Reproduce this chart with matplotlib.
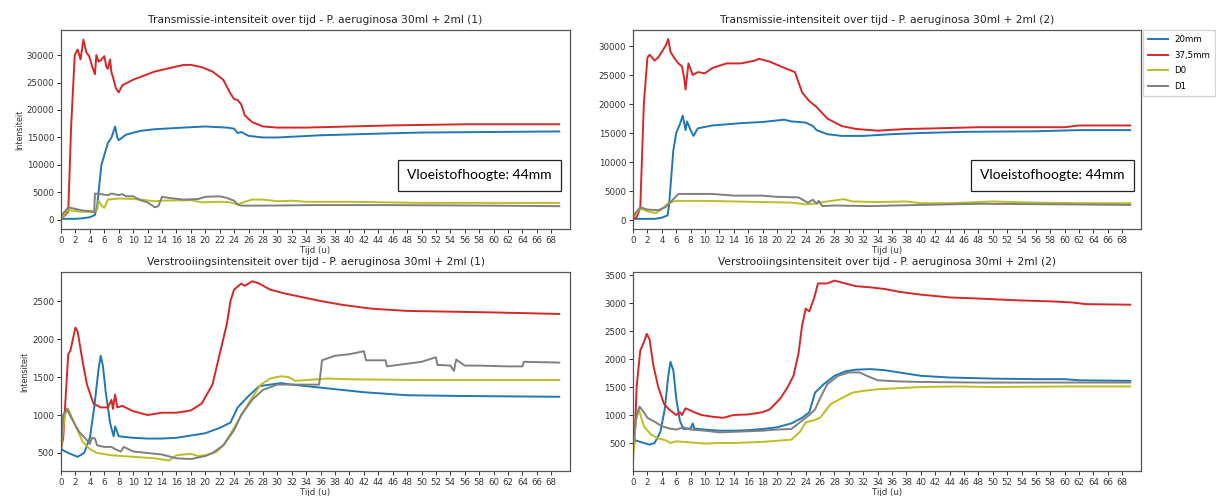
import matplotlib
matplotlib.use("Agg")
import matplotlib.pyplot as plt

# ---- Transmissie (1) ----
tr1_red_t = [0, 0.5, 1.0, 1.4, 1.9, 2.3, 2.7, 3.1, 3.5, 3.9, 4.3, 4.7, 4.9, 5.2, 5.5, 6.0, 6.3, 6.5, 6.8, 7.0, 7.2, 7.6, 8.0, 8.5, 10, 13, 15, 17, 18, 19.5, 21, 22.5, 23.5, 24, 24.5, 25, 25.5, 26.5, 28, 30, 34, 40, 46, 56, 69.1]
tr1_red_v = [300, 800, 1500, 17000, 30000, 31000, 29200, 32800, 30500, 29800, 28000, 26500, 30000, 28800, 29000, 29800, 27800, 27500, 29200, 26800, 26000, 24000, 23200, 24500, 25500, 27000, 27600, 28200, 28200, 27800, 27000, 25500, 23000, 22000, 21800, 21000, 19000, 17800, 17000, 16800, 16800, 17000, 17200, 17400, 17400]
tr1_blue_t = [0, 2, 3, 4, 4.7, 5.0, 5.6, 6.5, 7.0, 7.5, 7.8, 8.0, 9, 11, 13, 17, 20, 23, 24, 24.5, 25, 26, 28, 30, 36, 44, 50, 60, 69.1]
tr1_blue_v = [200, 200, 300, 500, 900, 2500, 10000, 14000, 15000, 17000, 15000, 14500, 15500, 16200, 16500, 16800, 17000, 16800, 16600, 15800, 16000, 15300, 15000, 15000, 15400, 15700, 15900, 16000, 16100]
tr1_olive_t = [0, 1.0, 2, 3, 4.5, 5.0, 5.2, 5.7, 6.0, 6.5, 8, 10, 11, 13, 14, 18, 19.5, 22, 23.5, 24.5, 25.5, 26.5, 28, 30, 32, 34, 40, 50, 69.1]
tr1_olive_v = [300, 1800, 1600, 1500, 1400, 1800, 3500, 2500, 2200, 3700, 3900, 3800, 3700, 3400, 3500, 3600, 3200, 3300, 3200, 2800, 3300, 3700, 3700, 3400, 3500, 3300, 3300, 3100, 3100]
tr1_gray_t = [0, 1.0, 2, 3, 4, 4.6, 4.7, 5.5, 6.5, 7.0, 8.0, 8.5, 9, 10, 11, 12, 13, 13.5, 14, 15, 17, 19, 20, 22, 23, 24, 24.5, 25, 28, 35, 45, 60, 69.1]
tr1_gray_v = [700, 2300, 2000, 1700, 1600, 1500, 4800, 4700, 4500, 4800, 4500, 4700, 4300, 4300, 3600, 3200, 2300, 2500, 4200, 4000, 3700, 3800, 4200, 4300, 4000, 3500, 2800, 2600, 2600, 2700, 2700, 2600, 2500]

# ---- Transmissie (2) ----
tr2_red_t = [0, 0.5, 1.0, 1.5, 2.0, 2.3, 3.0, 3.5, 4.0, 4.5, 4.9, 5.2, 5.7, 6.3, 6.8, 7.1, 7.3, 7.7, 8.0, 8.3, 9, 10, 11, 13, 15, 17, 17.5, 19, 20.5, 22.5, 23.5, 24.5, 25.5, 27, 29, 31, 34, 38, 42, 48, 60, 62, 69.1]
tr2_red_v = [200, 500, 2000, 20000, 28000, 28500, 27500, 28000, 29000, 30000, 31200, 29000, 28000, 27000, 26500, 24500, 22500, 27000, 26000, 25000, 25500, 25300, 26200, 27000, 27000, 27500, 27800, 27300, 26500, 25500, 22000, 20500, 19500, 17500, 16200, 15700, 15400, 15700, 15800, 16000, 16000, 16300, 16300]
tr2_blue_t = [0, 3, 4, 4.8, 5.0, 5.6, 6.0, 6.5, 6.9, 7.3, 7.5, 8.0, 8.4, 9, 11, 15, 18, 21, 22, 24, 25, 25.5, 27, 29, 32, 36, 40, 46, 56, 62, 69.1]
tr2_blue_v = [200, 200, 400, 800, 2500, 12000, 15000, 16500, 18000, 15500, 17000, 15500, 14500, 15800, 16300, 16700, 16900, 17300, 17000, 16800, 16200, 15500, 14800, 14500, 14500, 14800, 15000, 15200, 15300, 15500, 15500]
tr2_olive_t = [0, 1.0, 2, 3.2, 4, 5, 6, 10, 14, 18, 22, 24, 25, 27, 29.3, 30.5, 34, 38, 40, 44, 50, 56, 62, 69.1]
tr2_olive_v = [400, 2000, 1500, 1200, 1900, 3000, 3300, 3300, 3200, 3100, 3000, 2700, 2800, 3200, 3600, 3200, 3100, 3200, 2900, 2900, 3200, 3000, 2900, 2900]
tr2_gray_t = [0, 1.0, 2, 3.5, 4.5, 5.3, 6.3, 8, 11, 14, 18, 20, 23, 24.3, 25, 25.5, 25.8, 26.3, 28, 33, 40, 48, 60, 69.1]
tr2_gray_v = [700, 2200, 1800, 1700, 2200, 3200, 4500, 4500, 4500, 4200, 4200, 4000, 3900, 3000, 3500, 2800, 3300, 2400, 2500, 2400, 2600, 2800, 2700, 2600]

# ---- Verstrooiing (1) ----
sc1_red_t = [0, 0.3, 1.0, 1.3, 2.0, 2.3, 3.0, 3.6, 4.5, 5.5, 6.5, 7.0, 7.2, 7.5, 7.8, 8.5, 10, 12, 14, 16, 18, 19.5, 21, 22, 23, 23.5, 24, 25, 25.5, 26.5, 27.5, 29, 31, 33, 36, 39, 43, 48, 54, 60, 69.1]
sc1_red_v = [550, 700, 1800, 1850, 2150, 2100, 1700, 1400, 1150, 1100, 1100, 1200, 1080, 1270, 1100, 1120, 1050, 1000, 1030, 1030, 1060, 1150, 1400, 1800, 2200, 2500, 2650, 2730, 2700, 2760, 2730, 2650, 2600, 2560, 2500, 2450, 2400, 2370, 2360, 2350, 2330]
sc1_blue_t = [0, 1, 2.3, 3.2, 4, 4.6, 5.2, 5.5, 5.8, 6.2, 6.8, 7.0, 7.3, 7.5, 8, 10, 12, 14, 16, 18, 20, 22, 23.5, 24.5, 26, 27.5, 29, 30.5, 32, 36, 42, 48, 56, 69.1]
sc1_blue_v = [550, 500, 450, 500, 700, 1100, 1600, 1780, 1650, 1300, 900, 820, 720, 850, 720, 700, 690, 690, 700, 730, 760, 830, 900, 1100, 1250, 1380, 1400, 1420, 1400, 1360, 1300, 1260, 1250, 1240]
sc1_olive_t = [0, 0.5, 1.0, 1.8, 3, 4, 5, 7, 10, 13, 15, 16, 18, 19, 20, 21.5, 22.5, 23.5, 25, 26.3, 27.7, 29, 30.5, 31.5, 32.5, 34, 37, 40, 50, 69.1]
sc1_olive_v = [550, 1000, 1080, 900, 650, 550, 500, 470, 450, 430, 400, 470, 490, 460, 470, 510, 600, 750, 1000, 1200, 1400, 1480, 1510, 1500, 1450, 1460, 1480, 1470, 1460, 1460]
sc1_gray_t = [0, 0.3, 0.8, 1.5, 2.5, 3.3, 4.0, 4.3, 4.7, 5.0, 6, 7, 7.5, 8.3, 8.7, 10, 12, 14, 16, 18, 20, 21, 22.5, 24, 25, 26.5, 28, 30, 32, 35.8, 36.2, 38, 40, 42, 42.3, 45, 45.2, 50, 52, 52.2, 54, 54.5, 54.8, 56, 58, 62, 64, 64.2, 69.1]
sc1_gray_v = [600, 1000, 1080, 950, 780, 700, 620, 700, 690, 600, 580, 580, 550, 520, 580, 520, 500, 480, 430, 420, 460, 500, 600, 800, 1000, 1200, 1330, 1400, 1400, 1400, 1720, 1780, 1800, 1840, 1720, 1720, 1640, 1700, 1760, 1660, 1650, 1580, 1730, 1650, 1650, 1640, 1640, 1700, 1690]

# ---- Verstrooiing (2) ----
sc2_red_t = [0, 0.2, 0.5, 1.0, 1.5, 1.9, 2.3, 2.8, 3.5, 4.3, 5, 6, 6.5, 6.8, 7.3, 8, 8.5, 9.5, 11, 12.5, 14, 16, 18, 19, 20.5, 21.5, 22.3, 23, 23.5, 24, 24.5, 25.2, 25.7, 27, 28, 29.5, 31, 33, 35, 37, 40, 44, 48, 53, 58, 61, 63, 69.1]
sc2_red_v = [400, 500, 1500, 2150, 2300, 2450, 2350, 1900, 1500, 1200, 1100, 1000, 1050, 1000, 1120, 1080, 1050, 1000, 970, 950, 1000, 1010, 1050, 1100, 1300, 1500, 1700, 2100, 2600, 2900, 2850, 3100, 3350, 3350, 3400, 3350, 3300, 3280, 3250, 3200, 3150, 3100, 3080, 3050, 3030, 3010, 2980, 2970]
sc2_blue_t = [0, 1, 2.3, 3, 3.8, 4.4, 4.9, 5.2, 5.6, 6, 6.5, 7, 8, 8.3, 8.5, 10, 12, 14, 16, 18, 20, 22, 23.5, 24.5, 25.3, 26.5, 28, 29.5, 31, 33, 35, 38, 40, 44, 50, 56, 60, 62, 69.1]
sc2_blue_v = [560, 520, 470, 500, 700, 1100, 1700, 1950, 1800, 1300, 900, 750, 760, 850, 760, 740, 720, 720, 730, 750, 780, 850, 950, 1050, 1400, 1550, 1700, 1780, 1810, 1820, 1800, 1740, 1700, 1670, 1650, 1640, 1640, 1620, 1610]
sc2_olive_t = [0, 0.4, 0.8, 1.5, 2.5, 3.5, 4.5, 5.2, 6, 8, 10, 12, 14, 16, 18, 20, 22, 23.2, 24, 25, 26, 27.5, 29, 30.5, 32, 34, 37, 40, 45, 50, 60, 69.1]
sc2_olive_v = [200, 900, 1100, 800, 650, 580, 550, 500, 530, 510, 490, 500, 500, 510, 520, 540, 560, 700, 870, 900, 950, 1200, 1300, 1400, 1430, 1460, 1480, 1500, 1510, 1500, 1510, 1510]
sc2_gray_t = [0, 0.5, 0.9, 1.5, 2, 3, 4, 5, 6, 7, 8, 10, 12, 14, 16, 18, 20, 22, 23.5, 24.5, 25.3, 26, 27, 28.5, 30, 31.5, 32.5, 34, 37, 40, 48, 69.1]
sc2_gray_v = [500, 1000, 1150, 1050, 950, 880, 800, 760, 740, 780, 740, 720, 690, 700, 710, 720, 740, 750, 900, 1000, 1100, 1300, 1550, 1700, 1760, 1760, 1700, 1620, 1600, 1590, 1580, 1580]

labels = ['20mm', '37,5mm', 'D0', 'D1']
colors = ['#1f77b4', '#d62728', '#bcbd22', '#7f7f7f']

panels = [
    ('Transmissie-intensiteit over tijd - P. aeruginosa 30ml + 2ml (1)',
     [(tr1_blue_t, tr1_blue_v), (tr1_red_t, tr1_red_v), (tr1_olive_t, tr1_olive_v), (tr1_gray_t, tr1_gray_v)],
     [0.0502, 0.5383, 0.4186, 0.4012], (-1650, 34550), range(0, 30001, 5000), True),
    ('Transmissie-intensiteit over tijd - P. aeruginosa 30ml + 2ml (2)',
     [(tr2_blue_t, tr2_blue_v), (tr2_red_t, tr2_red_v), (tr2_olive_t, tr2_olive_v), (tr2_gray_t, tr2_gray_v)],
     [0.5206, 0.5383, 0.4177, 0.4012], (-1550, 32760), range(0, 30001, 5000), False),
    ('Verstrooiingsintensiteit over tijd - P. aeruginosa 30ml + 2ml (1)',
     [(sc1_blue_t, sc1_blue_v), (sc1_red_t, sc1_red_v), (sc1_olive_t, sc1_olive_v), (sc1_gray_t, sc1_gray_v)],
     [0.0502, 0.0504, 0.4186, 0.4012], (263, 2882), range(500, 2501, 500), True),
    ('Verstrooiingsintensiteit over tijd - P. aeruginosa 30ml + 2ml (2)',
     [(sc2_blue_t, sc2_blue_v), (sc2_red_t, sc2_red_v), (sc2_olive_t, sc2_olive_v), (sc2_gray_t, sc2_gray_v)],
     [0.5206, 0.0504, 0.4177, 0.4012], (0, 3554), range(500, 3501, 500), False),
]

fig = plt.figure(figsize=(12.16, 4.96), dpi=100)
axes = []
for title, series, rect, ylim, yticks, show_ylabel in panels:
    ax = fig.add_axes(rect)
    for (t, v), c, lab in zip(series, colors, labels):
        ax.plot(t, v, color=c, lw=1.4, label=lab)
    ax.set_xlim(0, 70.6)
    ax.set_ylim(*ylim)
    ax.set_xticks(range(0, 69, 2))
    ax.set_yticks(list(yticks))
    ax.tick_params(labelsize=6.2, length=3, width=0.7, pad=2, colors='#333333')
    for sp in ax.spines.values():
        sp.set_color('#555555')
        sp.set_linewidth(0.9)
    ax.set_title(title, fontsize=7.7, pad=5, color='#222222')
    ax.set_xlabel('Tijd (u)', fontsize=6.2, labelpad=1, color='#333333')
    if show_ylabel:
        ax.set_ylabel('Intensiteit', fontsize=5.8, labelpad=2, color='#333333')
    axes.append(ax)

# fill height note in the transmission plots
for ax, xpos in [(axes[0], 0.822), (axes[1], 0.826)]:
    ax.text(xpos, 0.269, 'Vloeistofhoogte: 44mm', transform=ax.transAxes,
            ha='center', va='center', fontsize=10, family='Lato',
            bbox=dict(boxstyle='square,pad=0.65', fc='white', ec='#222222', lw=0.9))

axes[1].legend(loc='upper left', bbox_to_anchor=(1.004, 1.0), fontsize=6.2,
               frameon=True, handlelength=2.3, handletextpad=0.7,
               labelspacing=0.75, borderpad=0.6, borderaxespad=0.0,
               fancybox=False, edgecolor='#cccccc')

fig.savefig('out.png', dpi=100)
